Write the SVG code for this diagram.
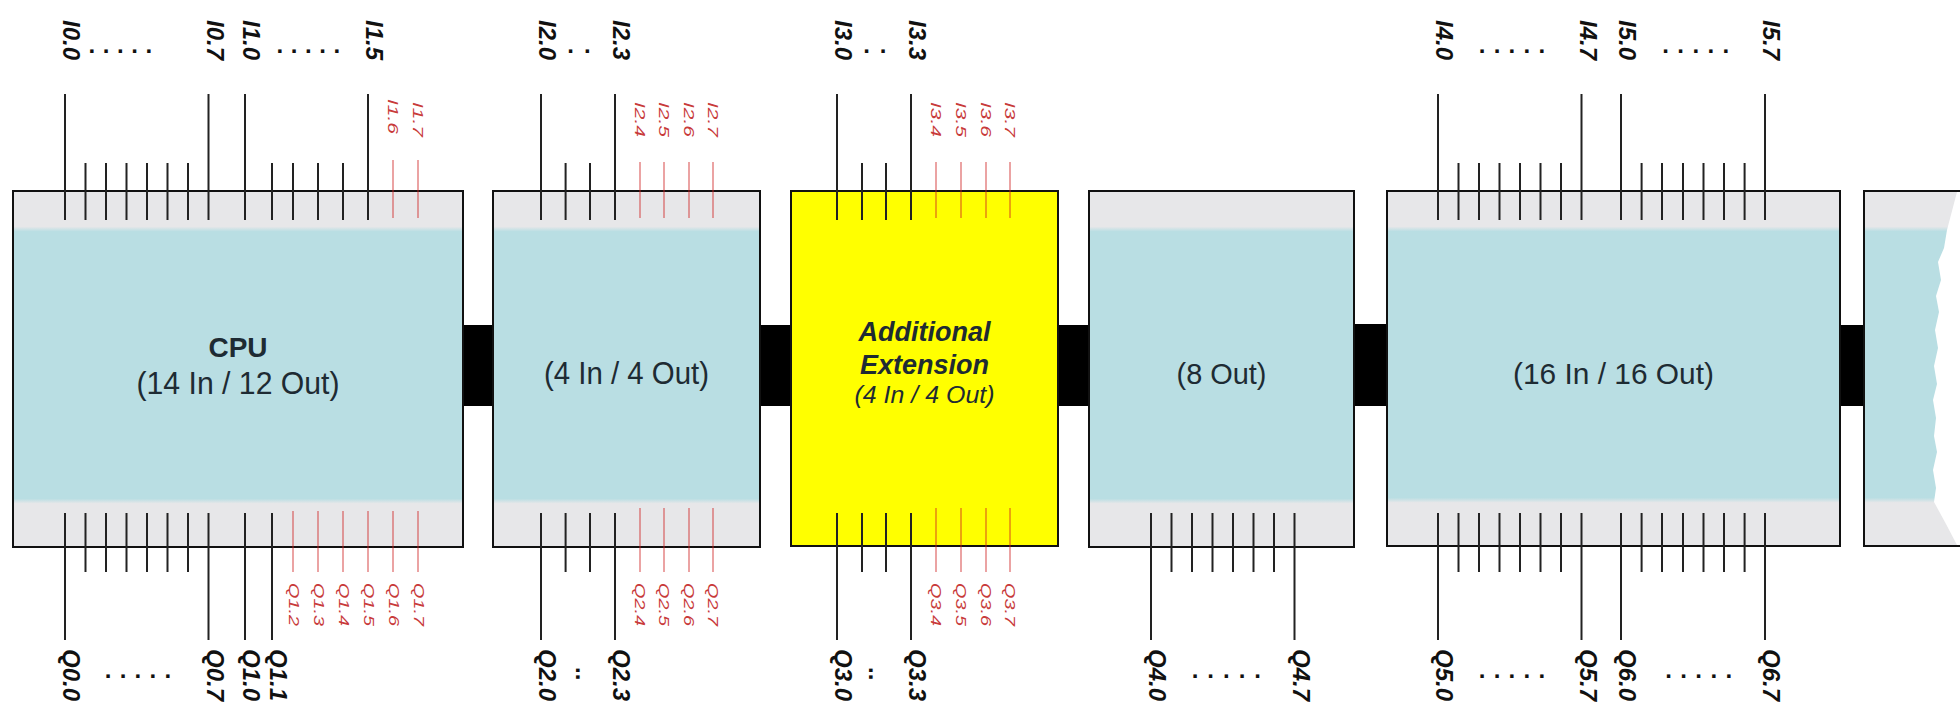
<svg xmlns="http://www.w3.org/2000/svg" width="1960" height="710" viewBox="0 0 1960 710">
<defs>
<linearGradient id="band" x1="0" y1="0" x2="0" y2="1">
<stop offset="0" stop-color="#e7e7e9"/>
<stop offset="0.100" stop-color="#e7e7e9"/>
<stop offset="0.114" stop-color="#b9dee3"/>
<stop offset="0.864" stop-color="#b9dee3"/>
<stop offset="0.878" stop-color="#e7e7e9"/>
<stop offset="1" stop-color="#e7e7e9"/>
</linearGradient>
<style>
.box{fill:url(#band);stroke:#111;stroke-width:2}
.ybox{fill:#ffff00;stroke:#111;stroke-width:2}
.pin{stroke:#222;stroke-width:2;fill:none}
.pr{stroke:#d02020;stroke-opacity:.55;stroke-width:1.5;fill:none}
.lb{font-family:"Liberation Sans",Arial,sans-serif;font-size:24px;font-weight:bold;font-style:italic;fill:#111}
.dt{font-family:"Liberation Sans",Arial,sans-serif;font-size:24px;font-weight:bold;fill:#111}
.lr{font-family:"Liberation Sans",Arial,sans-serif;font-size:14px;font-style:italic;fill:#c83a3a}
.t{font-family:"Liberation Sans",Arial,sans-serif;text-anchor:middle;fill:#1e2b33}
.bar{fill:#000}
</style>
</defs>
<rect width="1960" height="710" fill="#ffffff"/>

<g id="connectors">
<rect class="bar" x="463" y="325" width="30" height="81"/>
<rect class="bar" x="760" y="325" width="31" height="81"/>
<rect class="bar" x="1058" y="325" width="31" height="81"/>
<rect class="bar" x="1354" y="324" width="33" height="82"/>
<rect class="bar" x="1840" y="325" width="24" height="81"/>
</g>

<g id="cpu">
<rect class="box" x="13" y="191" width="450" height="356"/>
<path class="pin" d="M65 94V220M208.5 94V220M245 94V220M368 94V220M85.5 163V220M106 163V220M126.5 163V220M147 163V220M167.5 163V220M188 163V220M272 163V220M293 163V220M318 163V220M343 163V220"/>
<path class="pr" d="M393 160V218M418 160V218"/>
<path class="pin" d="M65 513V640M208.5 513V640M245 513V640M272 513V640M85.5 513V572M106 513V572M126.5 513V572M147 513V572M167.5 513V572M188 513V572"/>
<path class="pr" d="M293 511V572M318 511V572M343 511V572M368 511V572M393 511V572M418 511V572"/>
<text class="t" x="238" y="357" font-size="28" font-weight="bold" fill="#111">CPU</text>
<text class="t" x="238" y="394" font-size="32" textLength="203" lengthAdjust="spacingAndGlyphs">(14 In / 12 Out)</text>
<text class="lb" transform="translate(63,20) rotate(90)">I0.0</text>
<text class="lb" transform="translate(206.5,20) rotate(90)">I0.7</text>
<text class="lb" transform="translate(243,20) rotate(90)">I1.0</text>
<text class="lb" transform="translate(366,20) rotate(90)">I1.5</text>
<text class="dt" x="88.5" y="53" letter-spacing="7.6">.....</text>
<text class="dt" x="276.5" y="53" letter-spacing="7.6">.....</text>
<text class="lr" transform="translate(388,99) rotate(90)" textLength="35" lengthAdjust="spacingAndGlyphs">I1.6</text>
<text class="lr" transform="translate(413,102) rotate(90)" textLength="35" lengthAdjust="spacingAndGlyphs">I1.7</text>
<text class="lb" transform="translate(63,649) rotate(90)">Q0.0</text>
<text class="lb" transform="translate(206.5,649) rotate(90)">Q0.7</text>
<text class="lb" transform="translate(243,649) rotate(90)">Q1.0</text>
<text class="lb" transform="translate(270,649) rotate(90)">Q1.1</text>
<text class="dt" x="104.7" y="678" letter-spacing="8.3">.....</text>
<text class="lr" transform="translate(289,583) rotate(90)" textLength="43" lengthAdjust="spacingAndGlyphs">Q1.2</text>
<text class="lr" transform="translate(314,583) rotate(90)" textLength="43" lengthAdjust="spacingAndGlyphs">Q1.3</text>
<text class="lr" transform="translate(339,583) rotate(90)" textLength="43" lengthAdjust="spacingAndGlyphs">Q1.4</text>
<text class="lr" transform="translate(364,583) rotate(90)" textLength="43" lengthAdjust="spacingAndGlyphs">Q1.5</text>
<text class="lr" transform="translate(389,583) rotate(90)" textLength="43" lengthAdjust="spacingAndGlyphs">Q1.6</text>
<text class="lr" transform="translate(414,583) rotate(90)" textLength="43" lengthAdjust="spacingAndGlyphs">Q1.7</text>
</g>

<g id="ext1">
<rect class="box" x="493" y="191" width="267" height="356"/>
<path class="pin" d="M541 94V220M615 94V220M565.6 163V220M590 163V220M541 513V640M615 513V640M565.6 513V572M590 513V572"/>
<path class="pr" d="M640 162V218M664 162V218M689 162V218M713 162V218M640 508V572M664 508V572M689 508V572M713 508V572"/>
<text class="t" x="626.5" y="384" font-size="31" textLength="165" lengthAdjust="spacingAndGlyphs">(4 In / 4 Out)</text>
<text class="lb" transform="translate(539,20) rotate(90)">I2.0</text>
<text class="lb" transform="translate(613,20) rotate(90)">I2.3</text>
<text class="dt" x="567.3" y="53" letter-spacing="10">..</text>
<text class="lr" transform="translate(635,102) rotate(90)" textLength="35" lengthAdjust="spacingAndGlyphs">I2.4</text>
<text class="lr" transform="translate(659,102) rotate(90)" textLength="35" lengthAdjust="spacingAndGlyphs">I2.5</text>
<text class="lr" transform="translate(684,102) rotate(90)" textLength="35" lengthAdjust="spacingAndGlyphs">I2.6</text>
<text class="lr" transform="translate(708,102) rotate(90)" textLength="35" lengthAdjust="spacingAndGlyphs">I2.7</text>
<text class="lb" transform="translate(539,649) rotate(90)">Q2.0</text>
<text class="lb" transform="translate(613,649) rotate(90)">Q2.3</text>
<text class="dt" transform="translate(576,667) rotate(90)">..</text>
<text class="lr" transform="translate(635,583) rotate(90)" textLength="43" lengthAdjust="spacingAndGlyphs">Q2.4</text>
<text class="lr" transform="translate(659,583) rotate(90)" textLength="43" lengthAdjust="spacingAndGlyphs">Q2.5</text>
<text class="lr" transform="translate(684,583) rotate(90)" textLength="43" lengthAdjust="spacingAndGlyphs">Q2.6</text>
<text class="lr" transform="translate(708,583) rotate(90)" textLength="43" lengthAdjust="spacingAndGlyphs">Q2.7</text>
</g>

<g id="additional">
<rect class="ybox" x="791" y="191" width="267" height="355"/>
<path class="pin" d="M837 94V220M911 94V220M862 163V220M886 163V220M837 513V640M911 513V640M862 513V572M886 513V572"/>
<path class="pr" d="M936 162V218M961 162V218M986 162V218M1010 162V218M936 508V572M961 508V572M986 508V572M1010 508V572"/>
<text class="t" x="924.5" y="341" font-size="27" font-weight="bold" font-style="italic" fill="#111">Additional</text>
<text class="t" x="924.5" y="374" font-size="27" font-weight="bold" font-style="italic" fill="#111">Extension</text>
<text class="t" x="924.5" y="403" font-size="23" font-style="italic" fill="#222" textLength="140" lengthAdjust="spacingAndGlyphs">(4 In / 4 Out)</text>
<text class="lb" transform="translate(835,20) rotate(90)">I3.0</text>
<text class="lb" transform="translate(909,20) rotate(90)">I3.3</text>
<text class="dt" x="863.3" y="53" letter-spacing="9.7">..</text>
<text class="lr" transform="translate(931,102) rotate(90)" textLength="35" lengthAdjust="spacingAndGlyphs">I3.4</text>
<text class="lr" transform="translate(956,102) rotate(90)" textLength="35" lengthAdjust="spacingAndGlyphs">I3.5</text>
<text class="lr" transform="translate(981,102) rotate(90)" textLength="35" lengthAdjust="spacingAndGlyphs">I3.6</text>
<text class="lr" transform="translate(1005,102) rotate(90)" textLength="35" lengthAdjust="spacingAndGlyphs">I3.7</text>
<text class="lb" transform="translate(835,649) rotate(90)">Q3.0</text>
<text class="lb" transform="translate(909,649) rotate(90)">Q3.3</text>
<text class="dt" transform="translate(869,667) rotate(90)">..</text>
<text class="lr" transform="translate(931,583) rotate(90)" textLength="43" lengthAdjust="spacingAndGlyphs">Q3.4</text>
<text class="lr" transform="translate(956,583) rotate(90)" textLength="43" lengthAdjust="spacingAndGlyphs">Q3.5</text>
<text class="lr" transform="translate(981,583) rotate(90)" textLength="43" lengthAdjust="spacingAndGlyphs">Q3.6</text>
<text class="lr" transform="translate(1005,583) rotate(90)" textLength="43" lengthAdjust="spacingAndGlyphs">Q3.7</text>
</g>

<g id="out8">
<rect class="box" x="1089" y="191" width="265" height="356"/>
<path class="pin" d="M1151 513V640M1294.5 513V640M1171.5 513V572M1192 513V572M1212.5 513V572M1233 513V572M1253.5 513V572M1274 513V572"/>
<text class="t" x="1221.5" y="384" font-size="30" textLength="90" lengthAdjust="spacingAndGlyphs">(8 Out)</text>
<text class="lb" transform="translate(1149,649) rotate(90)">Q4.0</text>
<text class="lb" transform="translate(1292.5,649) rotate(90)">Q4.7</text>
<text class="dt" x="1191.7" y="678" letter-spacing="9">.....</text>
</g>

<g id="io16">
<rect class="box" x="1387" y="191" width="453" height="355"/>
<path class="pin" d="M1438 94V220M1581.5 94V220M1621 94V220M1765 94V220M1458.5 163V220M1479 163V220M1499.5 163V220M1520 163V220M1540.5 163V220M1561 163V220M1641.6 163V220M1662 163V220M1683 163V220M1703.5 163V220M1724 163V220M1744.6 163V220"/>
<path class="pin" d="M1438 513V640M1581.5 513V640M1621 513V640M1765 513V640M1458.5 513V572M1479 513V572M1499.5 513V572M1520 513V572M1540.5 513V572M1561 513V572M1641.6 513V572M1662 513V572M1683 513V572M1703.5 513V572M1724 513V572M1744.6 513V572"/>
<text class="t" x="1613.5" y="384" font-size="30" textLength="201" lengthAdjust="spacingAndGlyphs">(16 In / 16 Out)</text>
<text class="lb" transform="translate(1436,20) rotate(90)">I4.0</text>
<text class="lb" transform="translate(1579.5,20) rotate(90)">I4.7</text>
<text class="lb" transform="translate(1619,20) rotate(90)">I5.0</text>
<text class="lb" transform="translate(1763,20) rotate(90)">I5.7</text>
<text class="dt" x="1478.7" y="53" letter-spacing="8.3">.....</text>
<text class="dt" x="1662.3" y="53" letter-spacing="8.4">.....</text>
<text class="lb" transform="translate(1436,649) rotate(90)">Q5.0</text>
<text class="lb" transform="translate(1579.5,649) rotate(90)">Q5.7</text>
<text class="lb" transform="translate(1619,649) rotate(90)">Q6.0</text>
<text class="lb" transform="translate(1763,649) rotate(90)">Q6.7</text>
<text class="dt" x="1478.7" y="678" letter-spacing="8.3">.....</text>
<text class="dt" x="1665.2" y="678" letter-spacing="8.4">.....</text>
</g>

<g id="next-module">
<rect x="1864" y="191" width="100" height="355" fill="url(#band)"/>
<path fill="#ffffff" d="M1957 192L1947 230L1944 248L1938 262L1941 280L1936 296L1939 312L1935 330L1938 348L1934 366L1937 384L1933 400L1936 418L1934 436L1937 452L1933 470L1936 488L1934 502L1946 524L1957 545H1960V192Z"/>
<path fill="none" stroke="#111" stroke-width="2" d="M1960 191H1864V546H1960"/>
</g>
</svg>
